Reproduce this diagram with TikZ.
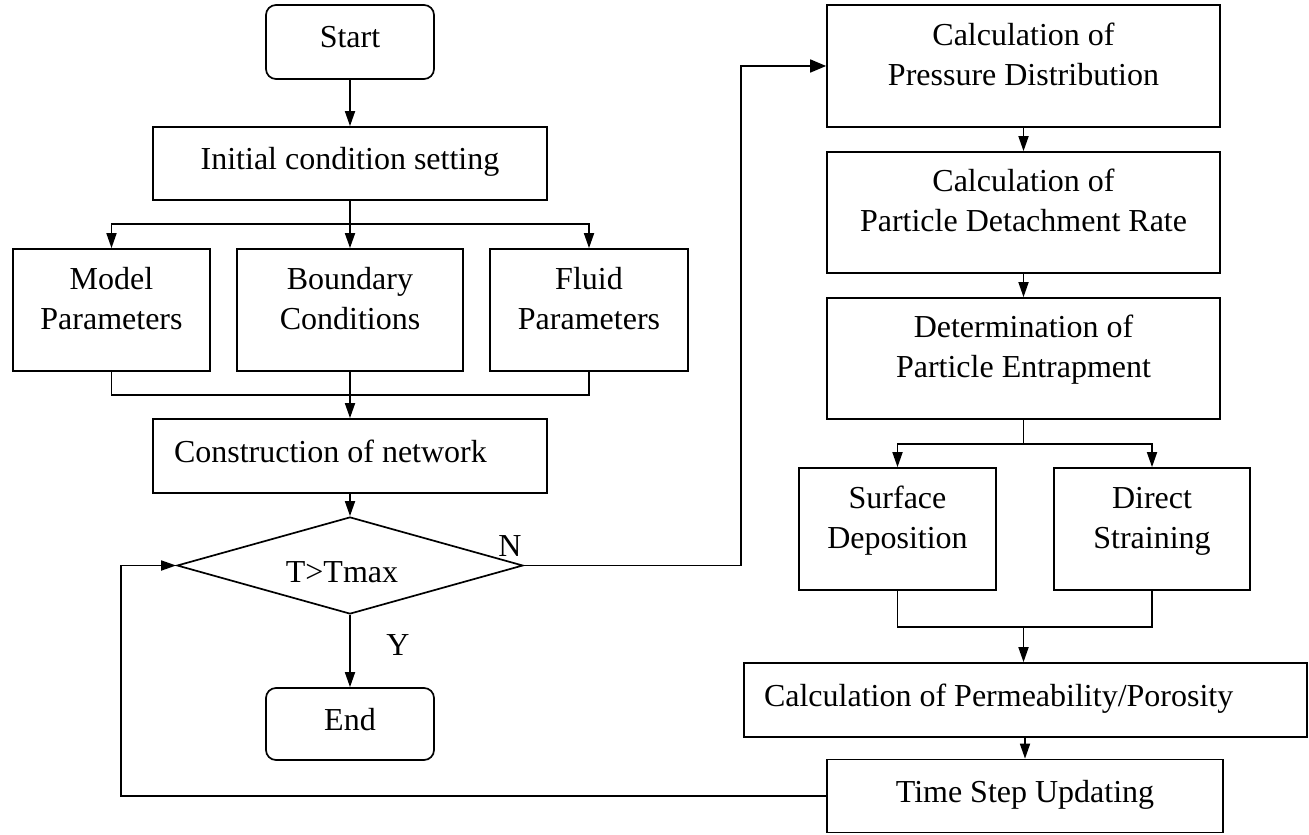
\documentclass[tikz,border=0pt]{standalone}
\usepackage{fontspec}
\setmainfont{Liberation Serif}
\usetikzlibrary{arrows.meta,shapes.geometric}
\newcommand{\fsz}{\fontsize{16}{20}\selectfont}
\newcommand{\twol}[2]{\begin{tabular}{@{}c@{}}#1\\#2\end{tabular}}
\begin{document}
\begin{tikzpicture}[x=0.5pt,y=-0.5pt,
  box/.style={draw, line width=0.85pt, inner sep=0pt, font=\fsz, text height=11pt, text depth=5pt},
  tbox/.style={box, text height=8pt, text depth=8pt},
  rbox/.style={box, rounded corners=5pt},
  ln/.style={line width=0.85pt},
  arr/.style={ln, -{Triangle[length=7.5pt,width=5pt]}},
  bigarr/.style={ln, -{Triangle[length=8pt,width=6.5pt]}},
  lab/.style={font=\fsz, inner sep=0pt, anchor=base}]
\useasboundingbox (0,0) rectangle (1309,834);

% left column
\node[rbox, minimum width=84pt, minimum height=37pt] (start) at (350,42) {Start};
\node[box, minimum width=197pt, minimum height=36.5pt] (init) at (350,163.5) {Initial condition setting};
\node[tbox, minimum width=98.5pt, minimum height=61pt] (model) at (111.5,310) {\twol{Model}{Parameters}};
\node[tbox, minimum width=113pt, minimum height=61pt] (bound) at (350,310) {\twol{Boundary}{Conditions}};
\node[tbox, minimum width=99pt, minimum height=61pt] (fluid) at (589,310) {\twol{Fluid}{Parameters}};
\node[box, minimum width=197pt, minimum height=37pt] (cons) at (350,456) {\makebox[176pt][l]{Construction of network}};
\node[draw, line width=0.85pt, diamond, inner sep=0pt, minimum width=173pt, minimum height=48.5pt] (dia) at (350,565.5) {};
\node[lab] (diat) at (342,582) {T>Tmax};
\node[rbox, minimum width=84pt, minimum height=36pt] (end) at (350,724) {End};
\node[lab] (nlab) at (510,556) {N};
\node[lab] (ylab) at (398,655) {Y};

% right column
\node[tbox, minimum width=196.5pt, minimum height=61pt] (press) at (1023.5,66) {\twol{Calculation of}{Pressure Distribution}};
\node[tbox, minimum width=196.5pt, minimum height=60.5pt] (detach) at (1023.5,212.5) {\twol{Calculation of}{Particle Detachment Rate}};
\node[tbox, minimum width=196.5pt, minimum height=60.5pt] (determ) at (1023.5,358.5) {\twol{Determination of}{Particle Entrapment}};
\node[tbox, minimum width=98.5pt, minimum height=61pt] (surf) at (897.5,529) {\twol{Surface}{Deposition}};
\node[tbox, minimum width=98pt, minimum height=61pt] (direct) at (1152,529) {\twol{Direct}{Straining}};
\node[box, minimum width=281.5pt, minimum height=37pt] (perm) at (1025.5,700) {\makebox[261.5pt][l]{Calculation of Permeability/Porosity}};
\node[box, minimum width=198pt, minimum height=36.5pt] (time) at (1025,796) {Time Step Updating};

% connectors left
\draw[arr] (start) -- (init);
\coordinate (b1) at (350,224);
\draw[ln] (init) -- (b1);
\draw[arr] (b1) -| (model.north);
\draw[arr] (b1) -| (fluid.north);
\draw[arr] (b1) -- (bound);
\coordinate (m1) at (350,395);
\draw[ln] (model.south) |- (m1) -| (fluid.south);
\draw[arr] (bound) -- (cons);
\draw[arr] (cons) -- (dia);
\draw[arr] (dia) -- (end);
\coordinate (np) at (741,565.5);
\draw[bigarr] (dia.east) -- (np) |- (press.west);

% connectors right
\draw[arr] (press) -- (detach);
\draw[arr] (detach) -- (determ);
\coordinate (b2) at (1023.5,444);
\draw[ln] (determ) -- (b2);
\draw[arr] (b2) -| (surf.north);
\draw[arr] (b2) -| (direct.north);
\coordinate (m2) at (1023.5,627);
\draw[ln] (surf.south) |- (m2) -| (direct.south);
\draw[arr] (m2) -- (m2 |- perm.north);
\draw[arr] (time.north |- perm.south) -- (time.north);
\coordinate (lp) at (121,796);
\draw[arr] (time.west) -- (lp) |- (dia.west);
\end{tikzpicture}
\end{document}
